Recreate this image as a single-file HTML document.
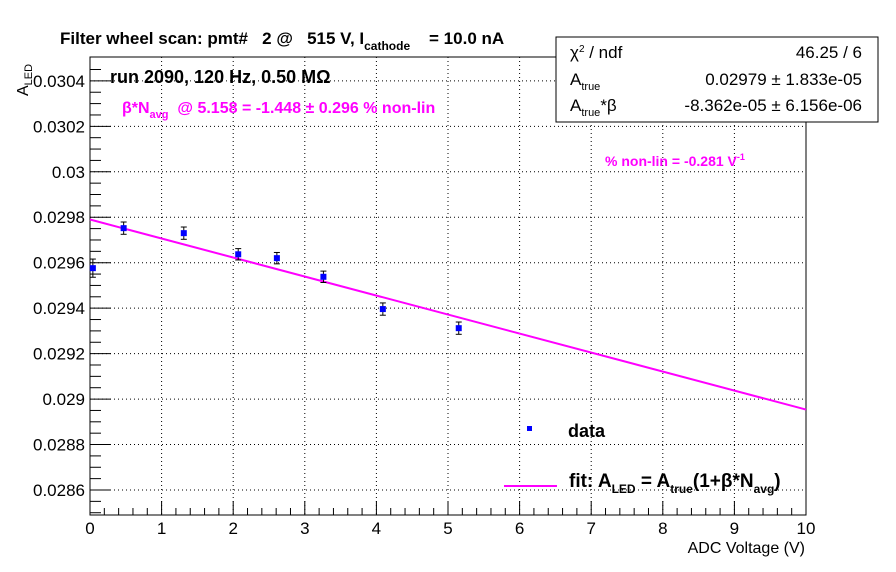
<!DOCTYPE html>
<html><head><meta charset="utf-8"><style>
body{margin:0;background:#fff}
svg{display:block;font-family:"Liberation Sans",sans-serif}
text{white-space:pre}
</style></head><body>
<svg id="c" width="896" height="572" viewBox="0 0 896 572">
<rect x="0" y="0" width="896" height="572" fill="#fff"/>
<g id="grid"></g>
<g id="axes"></g>
<g id="marks"></g>
<text x="60" y="44" font-size="17" font-weight="bold" xml:space="preserve">Filter wheel scan: pmt#   2 @   515 V, I<tspan font-size="12" dy="6">cathode</tspan><tspan dy="-6">    = 10.0 nA</tspan></text>
<text x="110" y="83" font-size="18" font-weight="bold">run 2090, 120 Hz, 0.50 MΩ</text>
<text x="122" y="113" font-size="16" font-weight="bold" fill="#ff00ff" xml:space="preserve">β*N<tspan font-size="11" dy="5">avg</tspan><tspan dy="-5">  @ 5.158 = -1.448 ± 0.296 % non-lin</tspan></text>
<text x="605" y="166" font-size="14" font-weight="bold" fill="#ff00ff">% non-lin = -0.281 V<tspan font-size="9" dy="-6">-1</tspan></text>
<text transform="translate(28,96) rotate(-90)" font-size="16">A<tspan font-size="11" dy="4">LED</tspan></text>
<text x="805" y="553" font-size="16" text-anchor="end">ADC Voltage (V)</text>
<g>
<rect x="556" y="37" width="322" height="85" fill="#fff" stroke="#000" stroke-width="1"/>
<text x="570" y="58" font-size="17">χ<tspan font-size="10" dy="-6">2</tspan><tspan dy="6"> / ndf</tspan></text>
<text x="862" y="58" font-size="17" text-anchor="end">46.25 / 6</text>
<text x="570" y="85" font-size="17">A<tspan font-size="11" dy="5">true</tspan></text>
<text x="862" y="85" font-size="17" text-anchor="end">0.02979 ± 1.833e-05</text>
<text x="570" y="111" font-size="17">A<tspan font-size="11" dy="5">true</tspan><tspan dy="-5">*β</tspan></text>
<text x="862" y="111" font-size="17" text-anchor="end">-8.362e-05 ± 6.156e-06</text>
</g>
<g>
<rect x="527" y="426" width="5" height="5" fill="#0000ff"/>
<text x="568" y="437" font-size="18" font-weight="bold">data</text>
<line x1="504" y1="486" x2="557" y2="486" stroke="#ff00ff" stroke-width="2"/>
<text x="569" y="487" font-size="19" font-weight="bold">fit: A<tspan font-size="12" dy="6">LED</tspan><tspan dy="-6"> = A</tspan><tspan font-size="12" dy="6">true</tspan><tspan dy="-6">(1+β*N</tspan><tspan font-size="12" dy="6">avg</tspan><tspan dy="-6">)</tspan></text>
</g>
</svg>
<script>
const xVals=[0.04,0.47,1.31,2.07,2.61,3.26,4.09,5.15];
const yVals=[0.029576,0.029752,0.02973,0.029637,0.02962,0.029538,0.029396,0.029312];
const yErrs=[0.00004,0.000027,0.000027,0.000025,0.000025,0.000025,0.000027,0.000027];
const fitA=0.02979;
const fitSlope=-8.362e-5;
const xTicks=[0,1,2,3,4,5,6,7,8,9,10];
const yTicks=[0.0286,0.0288,0.029,0.0292,0.0294,0.0296,0.0298,0.03,0.0302,0.0304];
const yTickLabels=["0.0286","0.0288","0.029","0.0292","0.0294","0.0296","0.0298","0.03","0.0302","0.0304"];
const L=90,R=806,T=57,B=515,xMin=0,xMax=10,yMin=0.02849,yMax=0.030505;
const sx=v=>L+(v-xMin)/(xMax-xMin)*(R-L);
const sy=v=>B-(v-yMin)/(yMax-yMin)*(B-T);
const NS="http://www.w3.org/2000/svg";
function mk(tag,attrs,parent){const e=document.createElementNS(NS,tag);for(const k in attrs)e.setAttribute(k,attrs[k]);parent.appendChild(e);return e;}
const grid=document.getElementById('grid'),axes=document.getElementById('axes'),marks=document.getElementById('marks');
xTicks.forEach(t=>{const x=sx(t);
 if(t>0&&t<10){const g=mk('line',{x1:x,y1:T,x2:x,y2:B,stroke:'#000','stroke-dasharray':'1,3','stroke-width':1},grid);
 
 }
 const tk=mk('line',{x1:x,y1:B,x2:x,y2:B-14,stroke:'#000'},axes);
 
 
 const lb=mk('text',{x:x,y:B+19,'font-size':17,'text-anchor':'middle'},axes);lb.textContent=t;
 
 });
for(let i=0;i<50;i++){const v=i*0.2;if(Math.abs(v-Math.round(v))<1e-6)continue;const x=sx(v);
 const m=mk('line',{x1:x,y1:B,x2:x,y2:B-7,stroke:'#000'},axes);
 
 }
yTicks.forEach((t,i)=>{const y=sy(t);
 const g=mk('line',{x1:L,y1:y,x2:R,y2:y,stroke:'#000','stroke-dasharray':'1,3','stroke-width':1},grid);
 
 
 const tk=mk('line',{x1:L,y1:y,x2:L+21,y2:y,stroke:'#000'},axes);
 
 
 const lb=mk('text',{x:L-5,y:y+6,'font-size':17,'text-anchor':'end'},axes);lb.textContent=yTickLabels[i];
 
 });
for(let v=0.02850;v<0.03050;v+=0.00005){if(Math.abs(v/0.0002-Math.round(v/0.0002))<1e-6)continue;const y=sy(v);if(y<T||y>B)continue;
 const m=mk('line',{x1:L,y1:y,x2:L+11,y2:y,stroke:'#000'},axes);
 
 }
const fr=mk('rect',{x:L,y:T,width:R-L,height:B-T,fill:'none',stroke:'#000','stroke-width':1},axes);


const fit=mk('line',{x1:sx(0),y1:sy(fitA),x2:sx(10),y2:sy(fitA+fitSlope*10),stroke:'#ff00ff','stroke-width':2},marks);


xVals.forEach((xv,i)=>{const x=sx(xv),y=sy(yVals[i]),y1=sy(yVals[i]+yErrs[i]),y2=sy(yVals[i]-yErrs[i]);
 const g=mk('g',{},marks);
 
 
 mk('line',{x1:x,y1:y1,x2:x,y2:y2,stroke:'#000'},g);
 mk('line',{x1:x-3,y1:y1,x2:x+3,y2:y1,stroke:'#000'},g);
 mk('line',{x1:x-3,y1:y2,x2:x+3,y2:y2,stroke:'#000'},g);
 mk('rect',{x:x-3,y:y-3,width:6,height:6,fill:'#0000ff'},g);});
</script>
</body></html>
